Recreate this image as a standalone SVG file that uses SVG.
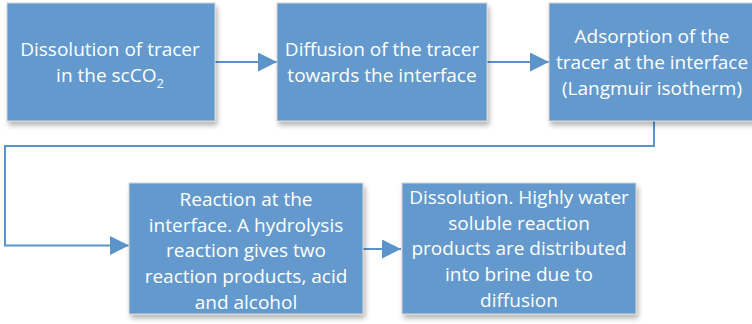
<svg xmlns="http://www.w3.org/2000/svg" width="752" height="324" viewBox="0 0 752 324">
  <defs>
    <style>
      .box { fill: #6399cd; stroke: #d4d4d4; stroke-width: 1; filter: url(#shadow); }
      .label { font-family: "Open Sans", "Noto Sans", sans-serif; font-size: 19px; fill: #ffffff; text-anchor: middle; }
      .link { fill: none; stroke: #5b93cb; stroke-width: 2; marker-end: url(#head); }
    </style>
    <filter id="shadow" x="-10%" y="-10%" width="125%" height="130%">
      <feGaussianBlur in="SourceAlpha" stdDeviation="2.5"/>
      <feOffset dx="2" dy="4" result="blur"/>
      <feFlood flood-color="#000000" flood-opacity="0.28"/>
      <feComposite in2="blur" operator="in"/>
      <feMerge>
        <feMergeNode/>
        <feMergeNode in="SourceGraphic"/>
      </feMerge>
    </filter>
    <marker id="head" viewBox="0 0 19 19" refX="19" refY="9.5" markerWidth="19" markerHeight="19" markerUnits="userSpaceOnUse" orient="auto">
      <path d="M0,0 L19,9.5 L0,19 Z" fill="#5b93cb"/>
    </marker>
  </defs>

  <g id="connectors">
    <path class="link" d="M215,62 H277"/>
    <path class="link" d="M487,62 H549"/>
    <path class="link" d="M654,121 V146 H5 V245.5 H129"/>
    <path class="link" d="M363,249 H401"/>
  </g>

  <g id="dissolution-scco2">
    <rect class="box" x="7" y="3" width="208" height="118"/>
    <text class="label" x="110" y="56">Dissolution of tracer</text>
    <text class="label" x="110" y="82">in the scCO<tspan font-size="13" dy="6">2</tspan></text>
  </g>

  <g id="diffusion-interface">
    <rect class="box" x="277" y="3" width="210" height="118"/>
    <text class="label" x="382" y="56">Diffusion of the tracer</text>
    <text class="label" x="382" y="82">towards the interface</text>
  </g>

  <g id="adsorption">
    <rect class="box" x="549" y="3" width="210" height="118"/>
    <text class="label" x="652" y="43">Adsorption of the</text>
    <text class="label" x="652" y="69">tracer at the interface</text>
    <text class="label" x="652" y="95">(Langmuir isotherm)</text>
  </g>

  <g id="reaction">
    <rect class="box" x="129" y="183" width="234" height="131"/>
    <text class="label" x="246" y="205.5">Reaction at the</text>
    <text class="label" x="246" y="231.5">interface. A hydrolysis</text>
    <text class="label" x="246" y="257">reaction gives two</text>
    <text class="label" x="246" y="283">reaction products, acid</text>
    <text class="label" x="246" y="308.5">and alcohol</text>
  </g>

  <g id="dissolution-brine">
    <rect class="box" x="402" y="183" width="234" height="131"/>
    <text class="label" x="519" y="203.5">Dissolution. Highly water</text>
    <text class="label" x="519" y="229.5">soluble reaction</text>
    <text class="label" x="519" y="255">products are distributed</text>
    <text class="label" x="519" y="281">into brine due to</text>
    <text class="label" x="519" y="306.5">diffusion</text>
  </g>
</svg>
